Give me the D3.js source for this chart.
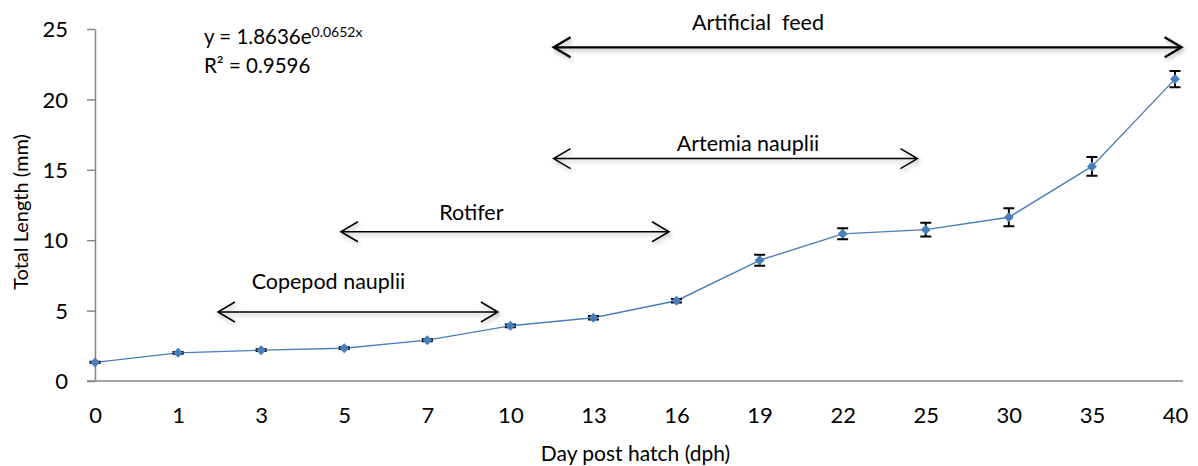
<!DOCTYPE html>
<meta charset="utf-8">
<style>
  body { margin: 0; background: #fff; }
  text { font-family: Lato, "Open Sans", sans-serif; fill: #000; }
  .axis path, .axis line { stroke: #868686; stroke-width: 1.5; }
  .axis text { font-size: 22px; }
</style>
<svg width="1198" height="466"></svg>
<script src="https://d3js.org/d3.v7.min.js"></script>
<script>
  // data
  var days = ["0", "1", "3", "5", "7", "10", "13", "16", "19", "22", "25", "30", "35", "40"];
  var lengths = [1.32, 2.0, 2.19, 2.33, 2.9, 3.92, 4.49, 5.7, 8.57, 10.45, 10.75, 11.63, 15.24, 21.44];
  var errors = [0.05, 0.06, 0.06, 0.06, 0.07, 0.1, 0.12, 0.12, 0.39, 0.39, 0.49, 0.64, 0.67, 0.57];
  var yTicks = [0, 5, 10, 15, 20, 25];

  // feeding periods: start/end as category index, level in mm
  var feedNames = ["Copepod nauplii", "Rotifer", "Artemia nauplii", "Artificial  feed"];
  var feedStart = [1.48, 2.96, 5.52, 5.52];
  var feedEnd = [4.85, 6.91, 9.9, 13.08];
  var feedLevel = [4.9, 10.6, 15.8, 23.7];
  // where each label sits (category index, mm)
  var feedLabelAt = [2.81, 4.53, 7.86, 7.98];
  var feedLabelLevel = [7.05, 11.97, 16.88, 25.5];

  var svg = d3.select("svg"),
      margin = {top: 29, right: 20, bottom: 85, left: 95},
      width = +svg.attr("width") - margin.left - margin.right,
      height = +svg.attr("height") - margin.top - margin.bottom;

  var x = d3.scalePoint().domain(days).range([0, width - 3]),
      xi = d3.scaleLinear().domain([0, days.length - 1]).range([0, width - 3]),
      y = d3.scaleLinear().domain([0, 25]).range([height, 0]);

  var defs = svg.append("defs");
  var f = defs.append("filter").attr("id", "shadow")
      .attr("x", "-5%").attr("y", "-200%").attr("width", "110%").attr("height", "500%");
  f.append("feDropShadow").attr("dx", 1.5).attr("dy", 2.5).attr("stdDeviation", 2)
      .attr("flood-color", "#000").attr("flood-opacity", 0.3);

  var g = svg.append("g").attr("transform", "translate(" + margin.left + "," + margin.top + ")");

  // y axis
  g.append("g")
      .attr("class", "axis")
      .call(d3.axisLeft(y).tickValues(yTicks).tickSize(8).tickSizeOuter(0).tickPadding(19))
      .call(function(a) { a.selectAll("text").attr("dy", "0.35em"); });

  // x axis
  g.append("g")
      .attr("class", "axis")
      .attr("transform", "translate(0," + height + ")")
      .call(d3.axisBottom(x).tickSize(0).tickPadding(26))
      .call(function(a) { a.select(".domain").attr("d", "M-8,0H" + (width + 5)); });

  // axis titles
  g.append("text")
      .attr("transform", "translate(-67," + (height / 2 + 7) + ") rotate(-90)")
      .attr("text-anchor", "middle")
      .style("font-size", "20px")
      .text("Total Length (mm)");

  g.append("text")
      .attr("x", x("13") + 42)
      .attr("y", height + 80)
      .attr("text-anchor", "middle")
      .style("font-size", "21px")
      .text("Day post hatch (dph)");

  // feeding arrows
  var feeds = feedNames.map(function(n, i) {
    return {name: n, a: feedStart[i], b: feedEnd[i], v: feedLevel[i],
            at: feedLabelAt[i], lv: feedLabelLevel[i]};
  });
  var fg = g.selectAll(".feed").data(feeds).enter().append("g").attr("class", "feed");
  fg.append("path")
      .attr("filter", "url(#shadow)")
      .attr("fill", "none")
      .attr("stroke", "#000")
      .attr("stroke-width", function(d, i) { return i == 3 ? 2.2 : 1.5; })
      .attr("d", function(d) {
        var x0 = xi(d.a), x1 = xi(d.b), yy = y(d.v);
        return "M" + x0 + "," + yy + "H" + x1 +
          "M" + (x0 + 17) + "," + (yy - 10) + "L" + x0 + "," + yy + "L" + (x0 + 17) + "," + (yy + 10) +
          "M" + (x1 - 17) + "," + (yy - 10) + "L" + x1 + "," + yy + "L" + (x1 - 17) + "," + (yy + 10);
      });
  fg.append("text")
      .attr("x", function(d) { return xi(d.at); })
      .attr("y", function(d) { return y(d.lv); })
      .attr("dy", "0.35em")
      .attr("text-anchor", "middle")
      .style("font-size", "21.5px")
      .style("white-space", "pre")
      .attr("xml:space", "preserve")
      .text(function(d) { return d.name; });

  // trendline equation
  var eq = g.append("text").attr("x", 109).attr("y", 15).style("font-size", "20.5px");
  eq.append("tspan").text("y = 1.8636e");
  eq.append("tspan").attr("dy", -7).style("font-size", "14px").text("0.0652x");
  g.append("text").attr("x", 109).attr("y", 44).style("font-size", "20.5px").text("R\u00b2 = 0.9596");

  var pts = days.map(function(d, i) { return {day: d, v: lengths[i], e: errors[i]}; });

  // line
  g.append("path")
      .datum(pts)
      .attr("fill", "none")
      .attr("stroke", "#4a7ebb")
      .attr("stroke-width", 1.4)
      .attr("d", d3.line().x(function(d) { return x(d.day); }).y(function(d) { return y(d.v); }));

  // error bars
  g.selectAll(".err").data(pts).enter().append("path")
      .attr("fill", "none")
      .attr("stroke", "#000")
      .attr("stroke-width", 2)
      .attr("d", function(d) {
        var cx = x(d.day), t = y(d.v + d.e), b = y(d.v - d.e);
        return "M" + cx + "," + t + "V" + b + "M" + (cx - 5.5) + "," + t + "H" + (cx + 5.5) +
          "M" + (cx - 5.5) + "," + b + "H" + (cx + 5.5);
      });

  // markers
  g.selectAll(".dot").data(pts).enter().append("path")
      .attr("fill", "#4a7ebb")
      .attr("transform", function(d) { return "translate(" + x(d.day) + "," + y(d.v) + ")"; })
      .attr("d", "M0,-5L5,0L0,5L-5,0Z");
</script>
